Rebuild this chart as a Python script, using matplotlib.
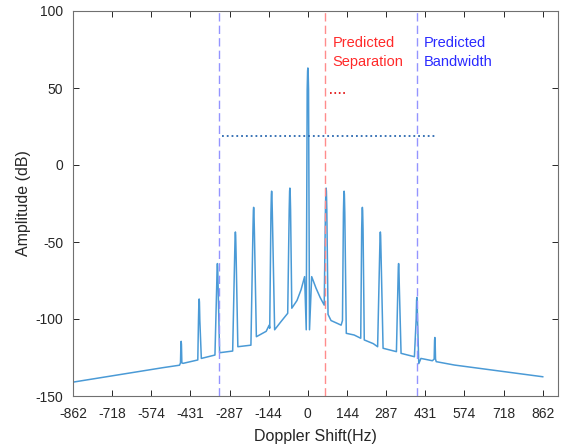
import numpy as np
import matplotlib.pyplot as plt

plt.rcParams['font.family'] = ['Liberation Sans', 'DejaVu Sans']
plt.rcParams['axes.unicode_minus'] = False

# Spectral lines (Doppler shift in Hz, amplitude in dB)
peak_hz = [-465, -399, -332, -266, -199, -133, -66, 0, 67, 133, 200, 266, 333, 400, 466]
peak_db = [-114.5, -87, -64, -43.5, -27.5, -17, -15, 63, -15, -17, -27.5, -43.5, -64, -86, -112]

# Noise floor / pedestal traced between the lines
floor_hz = [-862, -532, -471, -458, -404, -391, -341, -324, -276, -257, -209, -189,
            -153, -142, -140, -122, -100, -74, -59, -40, -25, -12, -6, 6, 14, 30,
            45, 60, 74, 85, 110, 122, 127, 141, 170, 194, 207, 240, 256, 276, 325,
            342, 391, 407, 415, 457, 471, 538, 862]
floor_db = [-141, -131.6, -130, -128.8, -126.6, -125.6, -123.4, -121.9, -120.8, -118, -117, -111.5,
            -108, -104, -106, -107, -102, -96.3, -93, -88, -81, -72.5, -107, -107, -72.5, -80,
            -86, -91, -97, -101, -103, -104, -101, -109.3, -110.4, -112.5, -113.6, -116, -118, -119, -121.2,
            -122.3, -124.5, -129, -125.6, -127.1, -127.7, -129.9, -137.5]

sep_hz = 63            # predicted separation
bw_hz = [-328, 399]    # predicted bandwidth edges
level_line = (-314, 473, 19)
sep_mark = (83, 137, 47)

xtick_vals = [-862, -718, -574, -431, -287, -144, 0, 144, 287, 431, 574, 718, 862]

fig = plt.figure(figsize=(5.69, 4.48), dpi=100)
ax = fig.add_axes([73 / 569, 52 / 448, 485 / 569, 385 / 448])

# build the trace: floor points plus narrow spikes at each line
pk = np.array(peak_hz, float)
pdb = np.array(peak_db, float)
hz = np.concatenate([floor_hz, pk - 2.5, pk - 1, pk, pk + 1, pk + 2.5])
db = np.concatenate([floor_db, pdb - 14, pdb - 2, pdb, pdb - 2, pdb - 14])
order = np.argsort(hz, kind='stable')
ax.plot(hz[order], db[order], color='#4a9ad6', linewidth=1.1)

# reference lines
for x in bw_hz:
    ax.axvline(x, color='#9494ff', linestyle=(0, (6, 3)), linewidth=1)
ax.axvline(sep_hz, color='#ff8c8c', linestyle=(0, (6, 3)), linewidth=1)
ax.plot(level_line[:2], [level_line[2]] * 2, color='#2a68b0', linestyle=':', linewidth=1.3)
ax.plot(sep_mark[:2], [sep_mark[2]] * 2, color='#e00000', linestyle=':', linewidth=1.2)

ax.text(91, 84, 'Predicted\nSeparation', color='#ff2a2a', fontsize=10.5,
        va='top', ha='left', linespacing=1.5)
ax.text(424, 84, 'Predicted\nBandwidth', color='#2a2aff', fontsize=10.5,
        va='top', ha='left', linespacing=1.5)

ax.set_xlim(-862, 918)
ax.set_ylim(-150, 100)
ax.set_xticks(np.array(xtick_vals))
ax.set_xticklabels([str(v) for v in xtick_vals])
ax.set_yticks([-150, -100, -50, 0, 50, 100])
ax.tick_params(direction='in', top=True, right=True, length=4, width=0.7,
               labelsize=10, colors='#262626')
ax.tick_params(axis='x', pad=8)
ax.tick_params(axis='y', pad=7)
for s in ax.spines.values():
    s.set_color('#707070')
    s.set_linewidth(0.8)

ax.set_xlabel('Doppler Shift(Hz)', fontsize=11.5, color='#262626', labelpad=6)
ax.set_ylabel('Amplitude (dB)', fontsize=11.5, color='#262626', labelpad=3)

fig.savefig('out.png', dpi=100)
